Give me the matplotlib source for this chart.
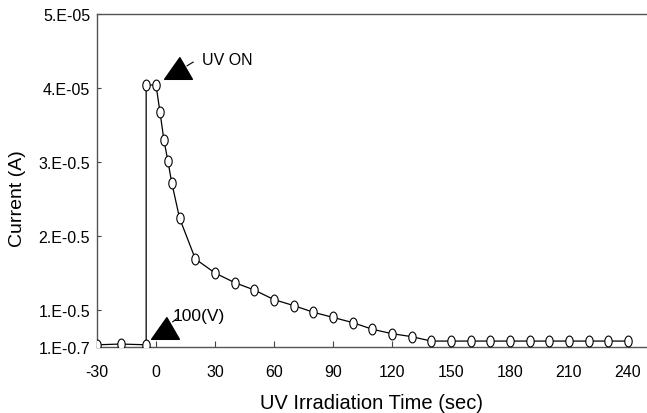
import matplotlib
matplotlib.use("Agg")
import matplotlib.pyplot as plt
from matplotlib.path import Path
import numpy as np

plt.rcParams['font.family'] = ['Liberation Sans', 'DejaVu Sans']
plt.rcParams['axes.unicode_minus'] = False

# Data (current in units of 1e-5 A)
time_s = [-30, -18, -5, -5, 0, 2, 4, 6, 8, 12, 20, 30, 40, 50, 60, 70, 80, 90,
          100, 110, 120, 130, 140, 150, 160, 170, 180, 190, 200, 210, 220, 230, 240]
current = [0.53, 0.54, 0.53, 4.04, 4.04, 3.68, 3.30, 3.02, 2.72, 2.24, 1.69, 1.50,
           1.37, 1.27, 1.14, 1.06, 0.97, 0.90, 0.83, 0.74, 0.68, 0.64, 0.58, 0.58,
           0.58, 0.58, 0.58, 0.58, 0.58, 0.58, 0.58, 0.58, 0.58]

xticks = [-30, 0, 30, 60, 90, 120, 150, 180, 210, 240]
yticks = [0.5, 1, 2, 3, 4, 5]
ytick_labels = ['1.E-0.7', '1.E-0.5', '2.E-0.5', '3.E-0.5', '4.E-05', '5.E-05']

fig = plt.figure(figsize=(6.47, 4.14), dpi=100)
ax = fig.add_axes([97/647, 1-348/414, 1-97/647, (348-15)/414])

# tall ellipse marker
t = np.linspace(0, 2*np.pi, 60)
ell = Path(np.column_stack([0.68*np.cos(t), np.sin(t)]), closed=True)

ax.plot(time_s, current, color='black', lw=0.9, marker=ell, ms=7.8,
        mfc='white', mec='black', mew=0.8, zorder=3)

ax.set_xlim(-30, -30 + (647-97)/59*30)
ax.set_ylim(0.5, 5.0)
ax.set_xticks(xticks)
ax.set_yticks(yticks)
ax.set_yticklabels(ytick_labels)
ax.tick_params(axis='both', direction='in', labelsize=11.5, color='#444')
ax.tick_params(axis='x', length=4, pad=12)
ax.tick_params(axis='y', length=3, pad=5)

for s in ['left', 'bottom', 'top']:
    ax.spines[s].set_color('#555')
    ax.spines[s].set_linewidth(1.0)
ax.spines['right'].set_visible(False)

ax.set_xlabel('UV Irradiation Time (sec)', fontsize=14.5, labelpad=10)
ax.set_ylabel('Current (A)', fontsize=14)
ax.yaxis.set_label_coords(-0.13, 0.45)

# annotation triangles
tri = Path([(-1, -0.78), (1, -0.78), (0.1, 0.78), (-1, -0.78)], closed=True)
ax.plot([11.2], [4.27], marker=tri, ms=20, color='black', ls='none', zorder=4)
ax.plot([15.8, 18.9], [4.30, 4.35], color='black', lw=0.8)
ax.text(23.5, 4.38, 'UV ON', fontsize=11.5, va='center', ha='left')

ax.plot([4.8], [0.757], marker=tri, ms=20, color='black', ls='none', zorder=4)
ax.plot([8.5, 10.9], [0.84, 0.89], color='black', lw=0.8)
ax.text(8.5, 0.93, '100(V)', fontsize=12.5, va='center', ha='left')

fig.savefig('out.png', dpi=100)
